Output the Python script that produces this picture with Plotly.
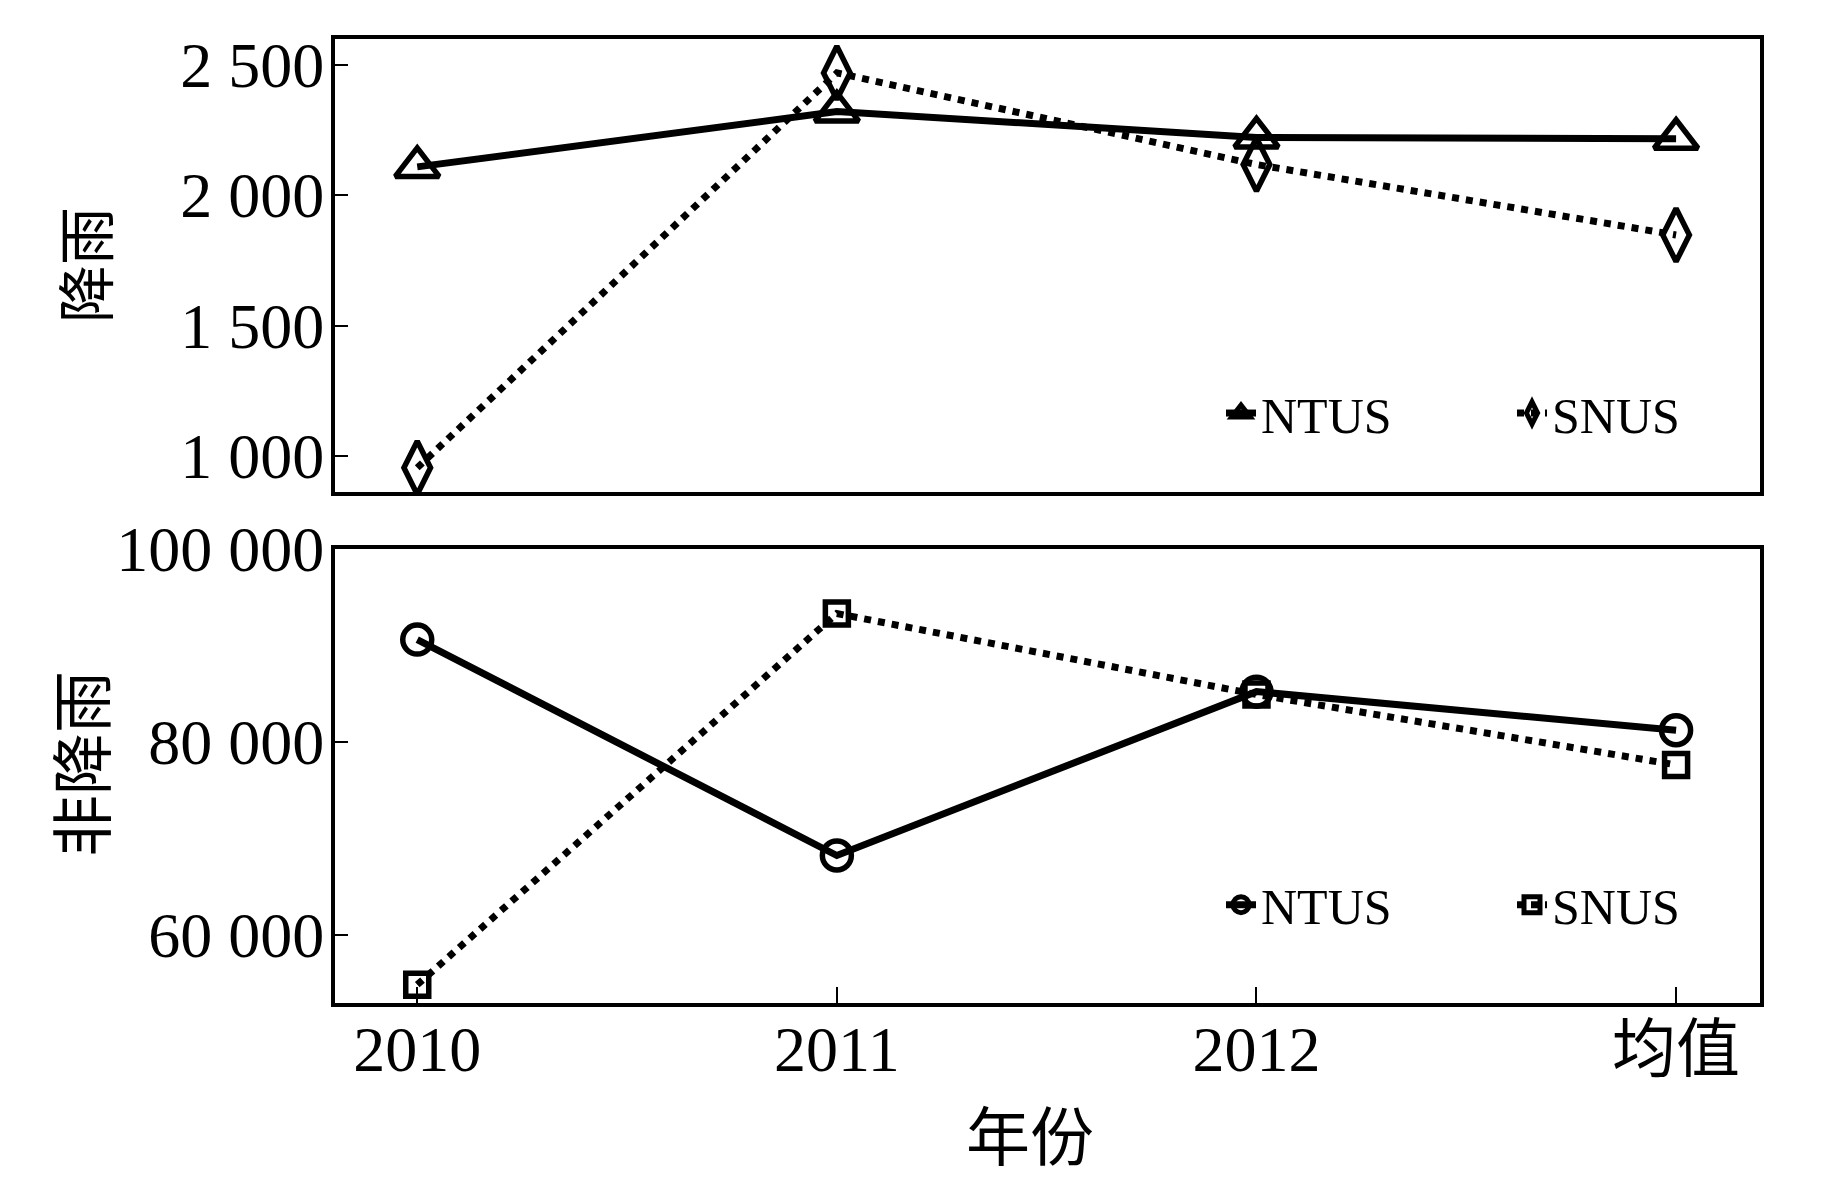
import plotly.graph_objects as go

# ---- data ----
categories = ["2010", "2011", "2012", "均值"]
rain_ntus = [2108, 2320, 2221, 2216]
rain_snus = [955, 2468, 2117, 1847]
nonrain_ntus = [90600, 68200, 85200, 81200]
nonrain_snus = [54800, 93300, 84900, 77600]

rain_tickvals = [1000, 1500, 2000, 2500]
rain_ticktext = ["1 000", "1 500", "2 000", "2 500"]
nonrain_tickvals = [60000, 80000, 100000]
nonrain_ticktext = ["60 000", "80 000", "100 000"]

series_names = ["NTUS", "SNUS"]
rain_title = "降雨"
nonrain_title = "非降雨"
x_title = "年份"

FONT = "Liberation Serif, Times New Roman, Noto Sans CJK SC, serif"
BLACK = "#000000"

# figure-space geometry (page body adds an 8px offset)
L, R, T, B = 327, 91, 31, 186
W, H = 1843, 1181
PW = W - L - R
PH = H - T - B

fig = go.Figure()

def add(x, y, name, dash, symbol, size, xa, ya, legend):
    fig.add_trace(go.Scatter(
        x=x, y=y, name=name, mode="lines+markers",
        line=dict(color=BLACK, width=7, dash=dash),
        marker=dict(symbol=symbol, size=size, color=BLACK,
                    line=dict(color=BLACK, width=5.5)),
        xaxis=xa, yaxis=ya, legend=legend,
    ))

add(categories, rain_ntus, series_names[0], "solid", "triangle-up-open", 38, "x", "y", "legend")
add(categories, rain_snus, series_names[1], "dot", "diamond-tall-open", 38, "x", "y", "legend")
add(categories, nonrain_ntus, series_names[0], "solid", "circle-open", 29, "x2", "y2", "legend2")
add(categories, nonrain_snus, series_names[1], "dot", "square-open", 23, "x2", "y2", "legend2")

axis_common = dict(
    showline=True, linecolor=BLACK, linewidth=4, mirror=True,
    showgrid=False, zeroline=False, automargin=False,
    tickfont=dict(family=FONT, size=64, color=BLACK),
)

legend_common = dict(
    orientation="h", xanchor="left", yanchor="middle",
    font=dict(family=FONT, size=50, color=BLACK),
    bgcolor="rgba(0,0,0,0)", entrywidth=246, entrywidthmode="pixels",
    itemwidth=30,
)

def px_x(sx):
    return (sx - 8 - L) / PW

def px_y(sy):
    return (H - B - (sy - 8)) / PH

fig.update_layout(
    width=W, height=H,
    margin=dict(l=L, r=R, t=T, b=B),
    paper_bgcolor="white", plot_bgcolor="white",
    font=dict(family=FONT, color=BLACK),
    showlegend=True,
    xaxis=dict(**axis_common, domain=[0, 1], anchor="y", type="category",
               range=[-0.196, 3.2], showticklabels=False, ticks=""),
    yaxis=dict(**axis_common, domain=[0.53, 1], anchor="x", range=[862, 2598],
               tickvals=rain_tickvals, ticktext=rain_ticktext,
               ticks="inside", ticklen=13, tickwidth=2, tickcolor=BLACK,
               ticklabelstandoff=-6),
    xaxis2=dict(**axis_common, domain=[0, 1], anchor="y2", type="category",
                range=[-0.196, 3.2],
                ticks="inside", ticklen=16, tickwidth=2, tickcolor=BLACK,
                ticklabelstandoff=-13),
    yaxis2=dict(**axis_common, domain=[0, 0.471], anchor="x2", range=[52900, 100000],
                tickvals=nonrain_tickvals, ticktext=nonrain_ticktext,
                ticks="inside", ticklen=13, tickwidth=2, tickcolor=BLACK,
                ticklabelstandoff=-6),
    legend=dict(**legend_common, x=px_x(1266 - 45), y=0.612),
    legend2=dict(**legend_common, x=px_x(1266 - 45), y=0.102),
    annotations=[
        dict(text=rain_title, xref="paper", yref="paper", x=px_x(88), y=px_y(265),
             showarrow=False, textangle=-90, font=dict(family=FONT, size=58, color=BLACK),
             xanchor="center", yanchor="middle"),
        dict(text=nonrain_title, xref="paper", yref="paper", x=px_x(85), y=px_y(764),
             showarrow=False, textangle=-90, font=dict(family=FONT, size=62, color=BLACK),
             xanchor="center", yanchor="middle"),
        dict(text=x_title, xref="paper", yref="paper", x=px_x(1030), y=px_y(1138),
             showarrow=False, font=dict(family=FONT, size=64, color=BLACK),
             xanchor="center", yanchor="middle"),
    ],
)

fig.write_html("out.html")
